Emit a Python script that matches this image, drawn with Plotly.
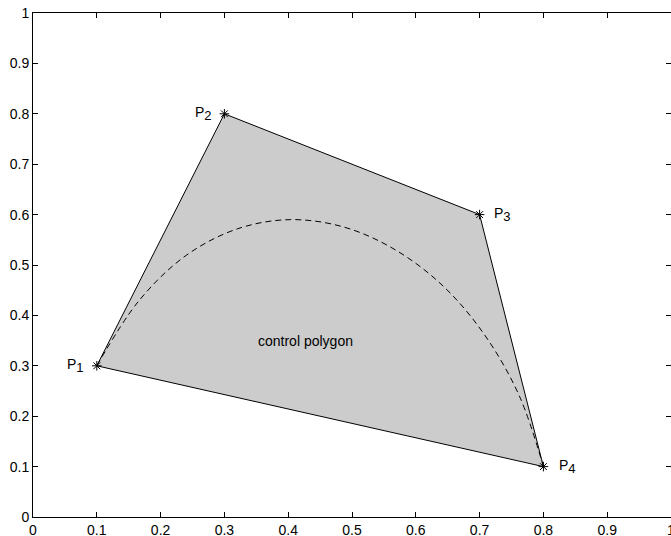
import plotly.graph_objects as go

# Control points
ctrl_x = [0.1, 0.3, 0.7, 0.8]
ctrl_y = [0.3, 0.8, 0.6, 0.1]
ctrl_names = ["1", "2", "3", "4"]
label_x = [0.05, 0.25, 0.72, 0.822]

# Dashed curve
curve_x = [0.1, 0.166, 0.240, 0.321, 0.404, 0.488, 0.568, 0.643, 0.708, 0.762, 0.8]
curve_y = [0.3, 0.429, 0.519, 0.572, 0.590, 0.575, 0.530, 0.458, 0.361, 0.241, 0.1]

# Axis ticks
ticks = [0, 0.1, 0.2, 0.3, 0.4, 0.5, 0.6, 0.7, 0.8, 0.9, 1]
tick_text = ["0", "0.1", "0.2", "0.3", "0.4", "0.5", "0.6", "0.7", "0.8", "0.9", "1"]

FONT = "Liberation Sans, Arial, Helvetica, sans-serif"

fig = go.Figure()

# Filled control polygon
fig.add_trace(go.Scatter(
    x=ctrl_x + [ctrl_x[0]], y=ctrl_y + [ctrl_y[0]],
    mode="lines", fill="toself", fillcolor="#cccccc",
    line=dict(color="black", width=1), hoverinfo="skip", showlegend=False))

# Bezier curve
fig.add_trace(go.Scatter(
    x=curve_x, y=curve_y, mode="lines",
    line=dict(color="black", width=1, dash="6px,4px", shape="spline"),
    showlegend=False))

# Control points markers
fig.add_trace(go.Scatter(
    x=ctrl_x, y=ctrl_y, mode="markers",
    marker=dict(symbol="asterisk-open", size=8, color="black",
                line=dict(color="black", width=1)),
    showlegend=False))

# empty trace to carry the right-hand tick axis
fig.add_trace(go.Scatter(x=[None], y=[None], yaxis="y2", mode="markers",
                         showlegend=False, hoverinfo="skip"))

for lx, ly, n in zip(label_x, ctrl_y, ctrl_names):
    txt = "P<sub><span style='font-size:13px'>%s</span></sub>" % n
    fig.add_annotation(x=lx, y=ly, text=txt, showarrow=False, xanchor="left",
                       yanchor="middle", font=dict(family=FONT, size=14, color="black"))

fig.add_annotation(x=0.35, y=0.35, text="control polygon", showarrow=False,
                   xanchor="left", yanchor="middle",
                   font=dict(family=FONT, size=14, color="black"))

axis_common = dict(
    tickvals=ticks, ticktext=tick_text, ticks="inside", ticklen=5,
    tickcolor="black", showline=True, linecolor="black", linewidth=1,
    showgrid=False, zeroline=False, automargin=False,
    ticklabeloverflow="allow",
    tickfont=dict(family=FONT, size=14, color="black"))

fig.update_layout(
    xaxis=dict(range=[0, 1], mirror="ticks", **axis_common),
    yaxis=dict(range=[0, 1], mirror=False, **axis_common),
    yaxis2=dict(range=[0, 1], overlaying="y", side="right", tickvals=ticks,
                ticks="inside", ticklen=5, tickcolor="black", showline=False,
                showticklabels=False, showgrid=False, zeroline=False,
                automargin=False),
    width=671, height=536,
    margin=dict(l=33, r=0, t=13, b=19),
    paper_bgcolor="white", plot_bgcolor="white")

fig.write_html(
    "out.html",
    config={"displayModeBar": False},
    post_script="document.body.style.margin='0';document.body.style.overflow='hidden';")
